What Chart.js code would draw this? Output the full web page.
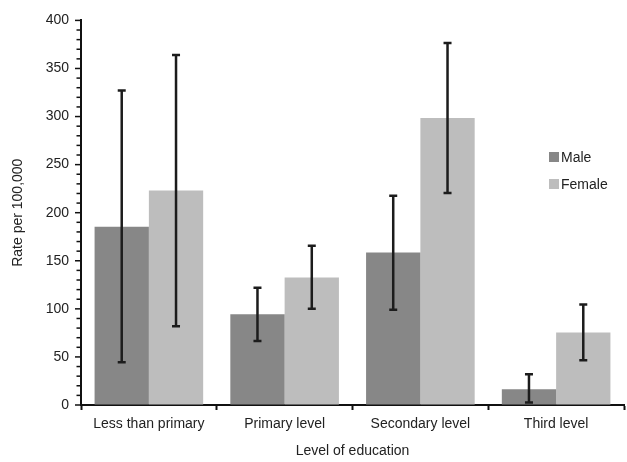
<!DOCTYPE html>
<html>
<head>
<meta charset="utf-8">
<script src="https://cdn.jsdelivr.net/npm/chart.js@4.4.1/dist/chart.umd.min.js"></script>
<style>
  html, body { margin: 0; padding: 0; background: #fff; }
  #wrap { position: relative; width: 627px; height: 462px; }
  #legend { position: absolute; left: 549px; top: 149px; font: 14px "Liberation Sans", Arial, sans-serif; color: #222; }
  #legend .item { display: flex; align-items: center; height: 16px; margin-bottom: 11px; }
  #legend .sw { width: 10px; height: 10px; margin-right: 2px; }
</style>
</head>
<body>
<div id="wrap">
  <canvas id="c" width="627" height="462"></canvas>
  <div id="legend"></div>
</div>
<script>
const categories = ["Less than primary", "Primary level", "Secondary level", "Third level"];
const seriesNames = ["Male", "Female"];
const maleValues = [185.5, 94.5, 158.5, 16.5];
const femaleValues = [223, 132.5, 298.5, 75.5];
const maleLow = [44.5, 66.5, 99, 2.5];
const maleHigh = [327, 122, 217.5, 32];
const femaleLow = [82, 100, 220.5, 46.5];
const femaleHigh = [364, 165.5, 376.5, 104.5];
const yTickStep = 10;
const yLabelStep = 50;

const colors = ["#878787", "#bdbdbd"];
const FONT = '"Liberation Sans", Arial, sans-serif';
const errLow = [maleLow, femaleLow];
const errHigh = [maleHigh, femaleHigh];

const errorBars = {
  id: 'errorBars',
  afterDatasetsDraw(chart) {
    const ctx = chart.ctx;
    const y = chart.scales.y;
    ctx.save();
    ctx.strokeStyle = '#1c1c1c';
    ctx.lineWidth = 2.5;
    chart.data.datasets.forEach((ds, i) => {
      const meta = chart.getDatasetMeta(i);
      meta.data.forEach((bar, j) => {
        const x = bar.x;
        const yl = y.getPixelForValue(errLow[i][j]);
        const yh = y.getPixelForValue(errHigh[i][j]);
        ctx.beginPath();
        ctx.moveTo(x, yl); ctx.lineTo(x, yh);
        ctx.moveTo(x - 4, yl); ctx.lineTo(x + 4, yl);
        ctx.moveTo(x - 4, yh); ctx.lineTo(x + 4, yh);
        ctx.stroke();
      });
    });
    ctx.restore();
  }
};

const yMinorTicks = {
  id: 'yMinorTicks',
  afterDraw(chart) {
    const ctx = chart.ctx;
    const y = chart.scales.y;
    const x0 = chart.chartArea.left - 1;
    ctx.save();
    ctx.strokeStyle = '#111';
    ctx.lineWidth = 1.5;
    y.ticks.forEach(t => {
      const py = y.getPixelForValue(t.value);
      const len = (t.value % yLabelStep === 0) ? 5 : 3.5;
      ctx.beginPath();
      ctx.moveTo(x0, py); ctx.lineTo(x0 - len, py);
      ctx.stroke();
    });
    ctx.restore();
  }
};

new Chart(document.getElementById('c'), {
  type: 'bar',
  data: {
    labels: categories,
    datasets: [
      { label: seriesNames[0], data: maleValues, backgroundColor: colors[0], borderWidth: 0 },
      { label: seriesNames[1], data: femaleValues, backgroundColor: colors[1], borderWidth: 0 }
    ]
  },
  options: {
    responsive: false,
    animation: false,
    layout: { padding: { top: 19, right: 3, left: 0, bottom: 0 } },
    datasets: { bar: { categoryPercentage: 0.8, barPercentage: 1.0 } },
    plugins: { legend: { display: false }, tooltip: { enabled: false } },
    scales: {
      x: {
        afterFit(s) { s.height = 57; },
        grid: { display: true, drawOnChartArea: false, drawTicks: true, tickLength: 5, tickWidth: 2, tickColor: '#111', offset: true },
        border: { display: true, color: '#111', width: 2 },
        ticks: { color: '#222', padding: 6, font: { family: FONT, size: 14 } },
        title: { display: true, text: 'Level of education', color: '#222', padding: { top: 0, bottom: 2 }, font: { family: FONT, size: 14 } }
      },
      y: {
        min: 0, max: 400,
        afterFit(s) { s.width = 81; },
        grid: { display: true, drawOnChartArea: false, drawTicks: false },
        border: { display: true, color: '#111', width: 2 },
        ticks: {
          stepSize: yTickStep, autoSkip: false, padding: 12, color: '#222',
          font: { family: FONT, size: 14 },
          callback: v => (v % yLabelStep === 0 ? String(v) : '')
        },
        title: { display: true, text: 'Rate per 100,000', color: '#222', padding: { top: 10, bottom: 0 }, font: { family: FONT, size: 14 } }
      }
    }
  },
  plugins: [errorBars, yMinorTicks]
});

const leg = document.getElementById('legend');
seriesNames.forEach((n, i) => {
  const it = document.createElement('div');
  it.className = 'item';
  const sw = document.createElement('span');
  sw.className = 'sw';
  sw.style.background = colors[i];
  const tx = document.createElement('span');
  tx.textContent = n;
  it.appendChild(sw); it.appendChild(tx);
  leg.appendChild(it);
});
</script>
</body>
</html>
